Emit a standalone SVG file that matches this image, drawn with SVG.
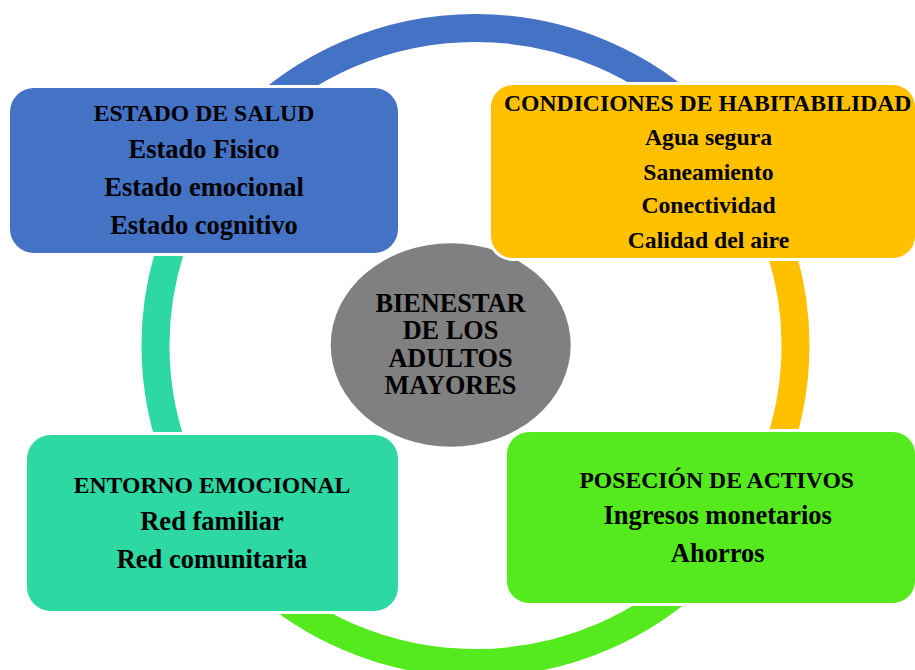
<svg xmlns="http://www.w3.org/2000/svg" width="915" height="670" viewBox="0 0 915 670">
<style>
.ring{fill:none;stroke-width:28}
.halo{fill:#ffffff}
text{font-family:"Liberation Serif","Times New Roman",serif;font-weight:bold;fill:#000000;text-anchor:middle}
.t{font-size:23.7px}
.i{font-size:26.5px}
.s{font-size:23.7px}
.c{font-size:26.3px}
</style>
<rect width="915" height="670" fill="#ffffff"/>
<g id="connectors">
<path class="ring" stroke="#4472C4" d="M249.2 121 A320 317.5 0 0 1 701.8 121"/>
<path class="ring" stroke="#FFC000" d="M701.8 121 A320 317.5 0 0 1 701.8 570"/>
<path class="ring" stroke="#55EA1E" d="M701.8 570 A320 317.5 0 0 1 249.2 570"/>
<path class="ring" stroke="#2ED8A3" d="M249.2 570 A320 317.5 0 0 1 249.2 121"/>
</g>
<g id="center">
<ellipse cx="450.7" cy="345" rx="120" ry="101.7" fill="#808080"/>
<text class="c" x="450.5" y="311.7">BIENESTAR</text>
<text class="c" x="450.5" y="339.3">DE LOS</text>
<text class="c" x="450.5" y="366.7">ADULTOS</text>
<text class="c" x="450.5" y="394.3">MAYORES</text>
</g>
<g id="salud">
<rect class="halo" x="7" y="85" width="394" height="171" rx="27"/>
<rect x="10" y="88" width="388" height="165" rx="24" fill="#4472C4"/>
<text class="t" x="204" y="120.7">ESTADO DE SALUD</text>
<text class="i" x="204" y="158.3">Estado Fisico</text>
<text class="i" x="204" y="196">Estado emocional</text>
<text class="i" x="204" y="234">Estado cognitivo</text>
</g>
<g id="habitabilidad">
<rect class="halo" x="488" y="82" width="430" height="179" rx="25"/>
<rect x="491" y="85" width="424" height="173" rx="22" fill="#FFC000"/>
<text class="t" x="707.7" y="111">CONDICIONES DE HABITABILIDAD</text>
<text class="s" x="708.5" y="145">Agua segura</text>
<text class="s" x="708.5" y="180">Saneamiento</text>
<text class="s" x="708.5" y="213.3">Conectividad</text>
<text class="s" x="708.5" y="248.3">Calidad del aire</text>
</g>
<g id="entorno">
<rect class="halo" x="24" y="432" width="377" height="182" rx="27"/>
<rect x="27" y="435" width="371" height="176" rx="24" fill="#2ED8A3"/>
<text class="t" x="212" y="492.7">ENTORNO EMOCIONAL</text>
<text class="i" x="212" y="530">Red familiar</text>
<text class="i" x="212" y="568.3">Red comunitaria</text>
</g>
<g id="activos">
<rect class="halo" x="504" y="429" width="414" height="177" rx="25"/>
<rect x="507" y="432" width="408" height="171" rx="22" fill="#55EA1E"/>
<text class="t" x="716.7" y="487.7">POSECIÓN DE ACTIVOS</text>
<text class="i" x="717.7" y="524">Ingresos monetarios</text>
<text class="i" x="717.7" y="561.7">Ahorros</text>
</g>
</svg>
